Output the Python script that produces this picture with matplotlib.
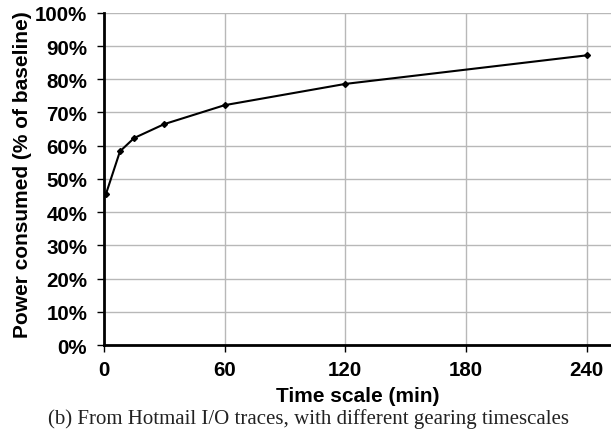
import matplotlib
matplotlib.use('Agg')
import matplotlib.pyplot as plt
from matplotlib.ticker import PercentFormatter

# data
time_min = [1, 8, 15, 30, 60, 120, 240]
power_pct = [45.4, 58.3, 62.3, 66.5, 72.2, 78.6, 87.2]
xticks = [0, 60, 120, 180, 240]
yticks = list(range(0, 101, 10))

plt.rcParams['font.family'] = ['Liberation Sans', 'DejaVu Sans']

fig = plt.figure(figsize=(6.11, 4.31), dpi=100)
ax = fig.add_axes([0.170, 0.197, 0.830, 0.771])

ax.plot(time_min, power_pct, color='black', linewidth=1.5,
        marker='D', markersize=3)

ax.set_xlim(0, 252)
ax.set_ylim(0, 100)
ax.set_xticks(xticks)
ax.set_yticks(yticks)
ax.yaxis.set_major_formatter(PercentFormatter(decimals=0))
ax.grid(True, color='#b8b8b8', linewidth=1)
ax.set_axisbelow(True)

for s in ['top', 'right']:
    ax.spines[s].set_visible(False)
for s in ['left', 'bottom']:
    ax.spines[s].set_linewidth(2)

ax.tick_params(axis='both', labelsize=14.8, width=1, length=5, direction='out')
ax.tick_params(axis='y', pad=7)
ax.tick_params(axis='x', pad=6)
for lbl in ax.get_xticklabels() + ax.get_yticklabels():
    lbl.set_fontweight('bold')

ax.set_xlabel('Time scale (min)', fontsize=15, fontweight='bold', labelpad=5)
ax.set_ylabel('Power consumed (% of baseline)', fontsize=15, fontweight='bold', labelpad=2)
ax.yaxis.set_label_coords(-0.142, 0.515)

fig.text(0.505, 0.016, '(b) From Hotmail I/O traces, with different gearing timescales',
         ha='center', va='baseline', fontsize=15, family='Liberation Serif', color='#222222')

plt.savefig('out.png', dpi=100)
